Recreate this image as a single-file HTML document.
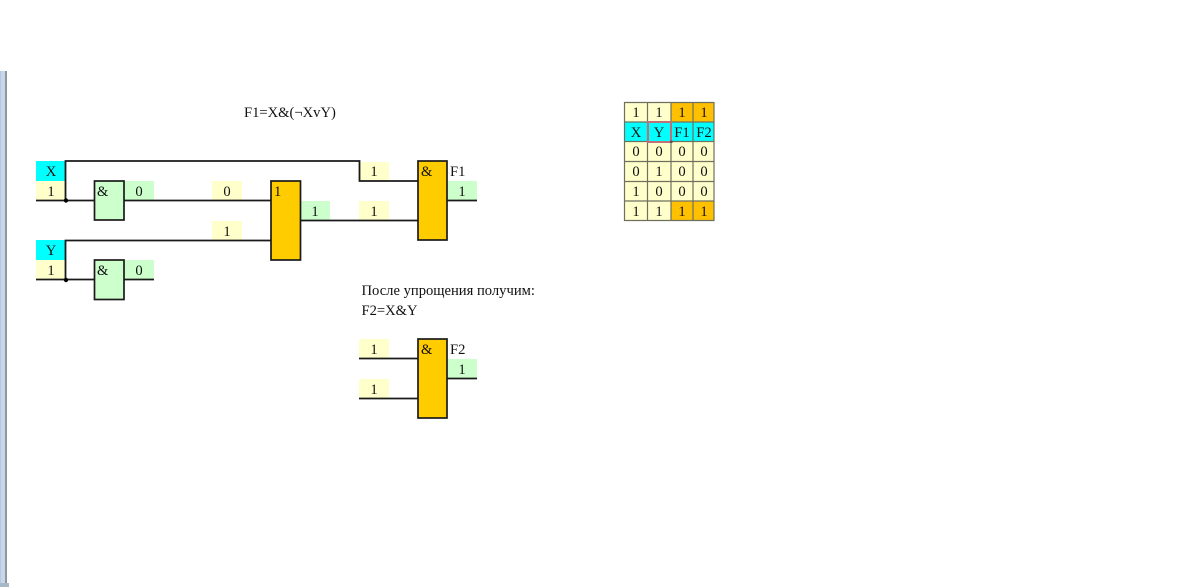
<!DOCTYPE html>
<html>
<head>
<meta charset="utf-8">
<style>
html,body{margin:0;padding:0;background:#fff;width:1200px;height:587px;overflow:hidden}
svg{display:block}
text{font-family:"Liberation Serif",serif;font-size:14.6px;fill:#111}
.c{text-anchor:middle}
.w{stroke:#1a1a1a;stroke-width:1.8;fill:none}
.b{stroke:#1a1a1a;stroke-width:1.7}
.t{stroke:#6f6f60;stroke-width:1.2;fill:none}
</style>
</head>
<body>
<svg width="1200" height="587" viewBox="0 0 1200 587" xmlns="http://www.w3.org/2000/svg">
<!-- left edge -->
<rect x="0" y="71" width="1" height="516" fill="#b8c6d8"/>
<rect x="1" y="71" width="4" height="516" fill="#c6d7ec"/>
<rect x="5" y="71" width="2" height="516" fill="#8f979f"/>
<rect x="0" y="583" width="9" height="4" fill="#a9b8c8"/>

<text x="244" y="117">F1=X&amp;(¬XvY)</text>

<!-- cells -->
<rect x="36" y="161" width="29" height="20" fill="#00ffff"/>
<rect x="36" y="181" width="29" height="19" fill="#ffffcc"/>
<rect x="36" y="240" width="29" height="20" fill="#00ffff"/>
<rect x="36" y="260" width="29" height="19" fill="#ffffcc"/>
<rect x="124" y="181" width="30" height="19" fill="#ccffcc"/>
<rect x="124" y="260" width="30" height="19" fill="#ccffcc"/>
<rect x="212" y="181" width="30" height="19" fill="#ffffcc"/>
<rect x="212" y="221" width="30" height="19" fill="#ffffcc"/>
<rect x="300" y="201" width="30" height="19" fill="#ccffcc"/>
<rect x="359" y="162" width="30" height="19" fill="#ffffcc"/>
<rect x="359" y="201" width="30" height="19" fill="#ffffcc"/>
<rect x="447" y="181" width="30" height="19" fill="#ccffcc"/>
<rect x="359" y="339" width="30" height="19" fill="#ffffcc"/>
<rect x="359" y="379" width="30" height="19" fill="#ffffcc"/>
<rect x="447" y="359" width="30" height="19" fill="#ccffcc"/>

<!-- wires -->
<path class="w" d="M65.5 200V161H359.5V181H418"/>
<path class="w" d="M36 200.500H94"/>
<path class="w" d="M124 200.500H271"/>
<path class="w" d="M65.500 279V240.500H271"/>
<path class="w" d="M36 279.500H94"/>
<path class="w" d="M124 279.500H154"/>
<path class="w" d="M300 220.500H418"/>
<path class="w" d="M447 200.500H477"/>
<path class="w" d="M359 358.500H418"/>
<path class="w" d="M359 398.500H418"/>
<path class="w" d="M447 378.500H477"/>
<circle cx="66" cy="200.500" r="2.200" fill="#000"/>
<circle cx="66" cy="280" r="2.200" fill="#000"/>

<!-- gates -->
<rect class="b" x="94.500" y="181" width="29.500" height="39" fill="#ccffcc"/>
<rect class="b" x="94.500" y="260" width="29.500" height="39.500" fill="#ccffcc"/>
<rect class="b" x="271" y="181" width="29.500" height="79" fill="#ffcc00"/>
<rect class="b" x="418" y="161" width="29" height="79" fill="#ffcc00"/>
<rect class="b" x="418" y="339" width="29" height="79" fill="#ffcc00"/>

<!-- labels -->
<text class="c" x="51" y="176">X</text>
<text class="c" x="51" y="196">1</text>
<text class="c" x="51" y="255">Y</text>
<text class="c" x="51" y="275">1</text>
<text x="97" y="196">&amp;</text>
<text x="97" y="275">&amp;</text>
<text class="c" x="139" y="196">0</text>
<text class="c" x="139" y="275">0</text>
<text class="c" x="227" y="196">0</text>
<text class="c" x="227" y="236">1</text>
<text x="274" y="196">1</text>
<text class="c" x="315" y="216">1</text>
<text class="c" x="374" y="176">1</text>
<text class="c" x="374" y="216">1</text>
<text x="421" y="176">&amp;</text>
<text x="450" y="176">F1</text>
<text class="c" x="462" y="196">1</text>

<text x="361.500" y="295">После упрощения получим:</text>
<text x="361.500" y="315">F2=X&amp;Y</text>
<text class="c" x="374" y="354">1</text>
<text class="c" x="374" y="394">1</text>
<text x="421" y="354">&amp;</text>
<text x="450" y="354">F2</text>
<text class="c" x="462" y="374">1</text>

<!-- table -->
<rect x="624" y="102" width="47" height="20" fill="#ffffcc"/>
<rect x="671" y="102" width="43" height="20" fill="#ffc000"/>
<rect x="624" y="122" width="90" height="20" fill="#00ffff"/>
<rect x="624" y="142" width="90" height="59" fill="#ffffcc"/>
<rect x="624" y="201" width="47" height="20" fill="#ffffcc"/>
<rect x="671" y="201" width="43" height="20" fill="#ffc000"/>
<path class="t" d="M624 102.500H714M624 122H714M624 141.500H714M624 161.500H714M624 181.500H714M624 201H714M624 220.500H714M624.500 102V221M647.500 102V221M671 102V221M693 102V221M714 102V221"/>
<rect x="648" y="122" width="23" height="20" fill="#00ffff" stroke="#c0707a" stroke-width="2"/>
<rect x="670" y="140.500" width="2.500" height="2.500" fill="#555"/>

<text class="c" x="636" y="117">1</text><text class="c" x="659" y="117">1</text><text class="c" x="682" y="117">1</text><text class="c" x="704" y="117">1</text>
<text class="c" x="636" y="137">X</text><text class="c" x="659" y="137">Y</text><text class="c" x="682" y="137">F1</text><text class="c" x="704" y="137">F2</text>
<text class="c" x="636" y="156">0</text><text class="c" x="659" y="156">0</text><text class="c" x="682" y="156">0</text><text class="c" x="704" y="156">0</text>
<text class="c" x="636" y="176">0</text><text class="c" x="659" y="176">1</text><text class="c" x="682" y="176">0</text><text class="c" x="704" y="176">0</text>
<text class="c" x="636" y="196">1</text><text class="c" x="659" y="196">0</text><text class="c" x="682" y="196">0</text><text class="c" x="704" y="196">0</text>
<text class="c" x="636" y="216">1</text><text class="c" x="659" y="216">1</text><text class="c" x="682" y="216">1</text><text class="c" x="704" y="216">1</text>
</svg>
</body>
</html>
